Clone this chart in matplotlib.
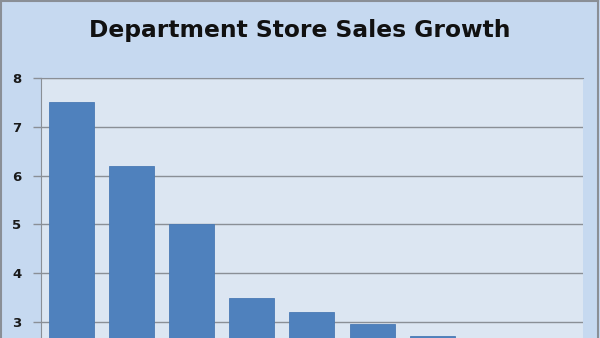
import matplotlib.pyplot as plt
from matplotlib.lines import Line2D

# data (last two bars fall below the visible part of the chart)
stores = ['A', 'B', 'C', 'D', 'E', 'F', 'G', 'H', 'I']
growth = [7.5, 6.2, 5.0, 3.5, 3.2, 2.95, 2.71, 2.5, 2.3]
yticks = [3, 4, 5, 6, 7, 8]

fig = plt.figure(figsize=(6, 3.38), dpi=100)
fig.patch.set_facecolor('#c6d9f0')

# grey frame on the top, left and right (bottom is cut off in the original)
for xs, ys in [([0.002, 0.002], [0, 0.997]), ([0.002, 0.997], [0.997, 0.997]), ([0.997, 0.997], [0, 0.997])]:
    fig.lines.append(Line2D(xs, ys, transform=fig.transFigure, color='#8a8f96', lw=1.5))

ax = fig.add_axes([0.0683, 0.0, 0.903, 0.769])
ax.set_facecolor('#dce6f2')

x = range(len(stores))
ax.bar(x, growth, width=0.75, color='#4f81bd', edgecolor='#4a7ab5', lw=0.6, zorder=3)

ax.set_xlim(-0.5, len(stores) - 0.5)
ax.set_ylim(2.672, 8)
ax.set_yticks(yticks)
ax.set_yticklabels([str(t) for t in yticks], fontsize=9.5, fontweight='bold', color='#1a1a1a')
ax.set_xticks([])
ax.tick_params(axis='y', length=6, width=1, color='#8a8f96', pad=8)

ax.grid(axis='y', color='#8a8f96', lw=1, zorder=1)
for side in ['right', 'bottom']:
    ax.spines[side].set_visible(False)
ax.spines['left'].set_color('#8a8f96')
ax.spines['top'].set_color('#8a8f96')

fig.text(0.5, 0.91, 'Department Store Sales Growth', ha='center', va='center',
         fontsize=16.8, fontweight='bold', color='#111111')

fig.savefig('out.png', dpi=100, facecolor=fig.get_facecolor())
